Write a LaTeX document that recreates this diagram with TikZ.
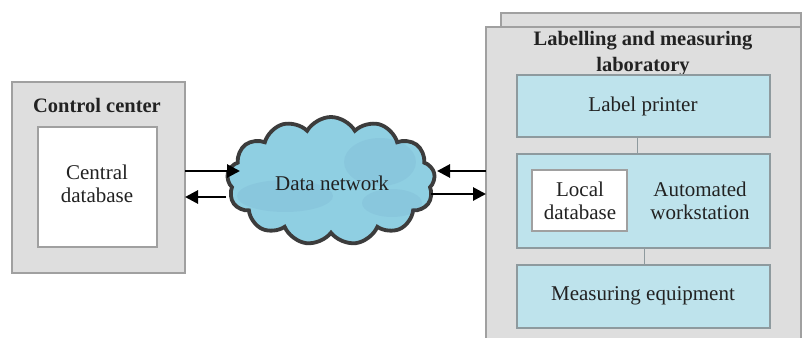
\documentclass[tikz,border=0pt]{standalone}
\usepackage{fontspec}
\setmainfont{Liberation Serif}
\usetikzlibrary{shapes.symbols,arrows.meta}
\definecolor{panelgray}{HTML}{DEDEDE}
\definecolor{panelline}{HTML}{A0A0A0}
\definecolor{labblue}{HTML}{BEE3EC}
\definecolor{blueline}{HTML}{8E9A9E}
\definecolor{cloudfill}{HTML}{8FCFE2}
\definecolor{cloudline}{HTML}{3C3C3C}
\definecolor{txt}{HTML}{222222}
\tikzset{
  panel/.style={draw=panelline, fill=panelgray, line width=1.3pt},
  whitebox/.style={draw=panelline, fill=white, line width=1.1pt},
  bluebox/.style={draw=blueline, fill=labblue, line width=1.1pt},
  lbl/.style={text=txt, font=\fontsize{21}{23.5}\selectfont, align=center, inner sep=0pt},
  title/.style={text=txt, font=\fontsize{20.5}{26}\selectfont\bfseries, align=center, inner sep=0pt},
  link/.style={draw=blueline, line width=1pt},
  flow/.style={line width=2.8pt, -{Triangle[length=13pt,width=13pt]}},
}
\begin{document}
\begin{tikzpicture}[x=1pt,y=-1pt]
\useasboundingbox (0,0) rectangle (802,337);
\fill[white] (0,0) rectangle (802,337);
\clip (0,0) rectangle (802,337);

% Control center
\draw[panel] (12,82) rectangle (185,273);
\coordinate (ccE1) at (185,171);
\coordinate (ccE2) at (185,197);
\node[title] (cctitle) at (97,105) {Control center};
\draw[whitebox] (38,127) rectangle (157,247);
\node[lbl] (cdb) at (97,184) {Central\\database};

% Lab panels
\draw[panel] (501,13) rectangle (801,345);
\draw[panel] (486,27) rectangle (801,345);
\coordinate (labW1) at (486,171);
\coordinate (labW2) at (486,194);
\node[title] (labtitle) at (643,54) {Labelling and measuring\\laboratory};

\draw[bluebox] (517,75) rectangle (770,137);
\node[lbl] (lp) at (643,106) {Label printer};
\draw[bluebox] (517,154) rectangle (770,248);
\draw[whitebox] (532,170) rectangle (627,231);
\node[lbl] (ldb) at (580,201) {Local\\database};
\node[lbl] (aw) at (700,201) {Automated\\workstation};
\draw[bluebox] (517,265) rectangle (770,328);
\node[lbl] (me) at (643,296) {Measuring equipment};
\coordinate (c1a) at (637,137); \coordinate (c1b) at (637,154);
\coordinate (c2a) at (644,248); \coordinate (c2b) at (644,265);
\draw[link] (c1a) -- (c1b);
\draw[link] (c2a) -- (c2b);

% Cloud
\node[cloud, cloud puffs=13, cloud puff arc=120, aspect=1.6,
      minimum width=208pt, minimum height=128pt,
      draw=cloudline, line width=3.8pt, fill=cloudfill] (net) at (331,181) {};
\begin{scope}
  \fill[cloudfill!70!blue!70!black, opacity=0.07] (285,196) ellipse (48pt and 16pt);
  \fill[cloudfill!70!blue!70!black, opacity=0.07] (380,162) ellipse (36pt and 24pt);
  \fill[cloudfill!70!blue!70!black, opacity=0.07] (392,203) ellipse (30pt and 14pt);
\end{scope}
\node[lbl] (netlbl) at (332,183) {Data network};

% Arrows
\draw[flow] (ccE1) -- (240,171);
\draw[flow] (226,197) -- (ccE2);
\draw[flow] (labW1) -- (437,171);
\draw[flow] (431,194) -- (labW2);
\end{tikzpicture}
\end{document}
